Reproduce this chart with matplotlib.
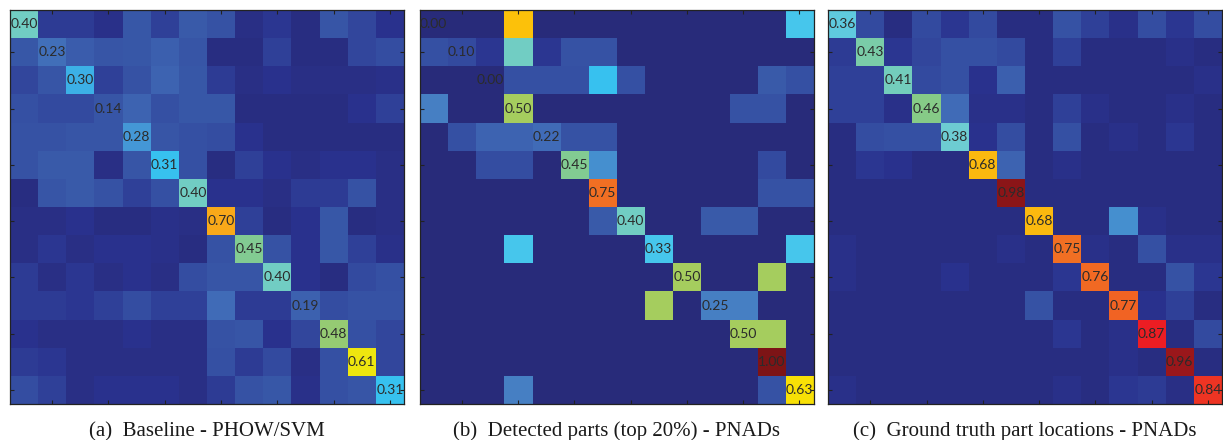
import numpy as np
import matplotlib
matplotlib.use("Agg")
import matplotlib.pyplot as plt
from matplotlib.colors import LinearSegmentedColormap

# ---------------- data ----------------
captions = ["(a)  Baseline - PHOW/SVM",
            "(b)  Detected parts (top 20%) - PNADs",
            "(c)  Ground truth part locations - PNADs"]

baseline = [
    [0.40, 0.07, 0.07, 0.04, 0.15, 0.08, 0.16, 0.13, 0.03, 0.06, 0.02, 0.14, 0.09, 0.05],
    [0.15, 0.23, 0.17, 0.14, 0.15, 0.18, 0.14, 0.02, 0.02, 0.08, 0.02, 0.02, 0.09, 0.11],
    [0.09, 0.14, 0.30, 0.08, 0.13, 0.20, 0.15, 0.07, 0.03, 0.05, 0.03, 0.03, 0.03, 0.04],
    [0.12, 0.10, 0.10, 0.14, 0.20, 0.12, 0.15, 0.15, 0.02, 0.02, 0.02, 0.02, 0.05, 0.08],
    [0.13, 0.13, 0.14, 0.14, 0.28, 0.14, 0.12, 0.11, 0.05, 0.02, 0.02, 0.02, 0.02, 0.02],
    [0.13, 0.16, 0.16, 0.03, 0.14, 0.31, 0.12, 0.02, 0.08, 0.05, 0.03, 0.05, 0.05, 0.03],
    [0.02, 0.14, 0.16, 0.13, 0.08, 0.12, 0.40, 0.05, 0.05, 0.03, 0.07, 0.07, 0.13, 0.03],
    [0.03, 0.03, 0.05, 0.02, 0.02, 0.04, 0.03, 0.70, 0.08, 0.02, 0.05, 0.15, 0.02, 0.03],
    [0.03, 0.06, 0.03, 0.05, 0.05, 0.04, 0.02, 0.13, 0.45, 0.13, 0.05, 0.15, 0.08, 0.04],
    [0.07, 0.03, 0.06, 0.03, 0.05, 0.03, 0.11, 0.14, 0.14, 0.40, 0.05, 0.02, 0.10, 0.12],
    [0.07, 0.07, 0.06, 0.08, 0.11, 0.08, 0.08, 0.22, 0.07, 0.07, 0.19, 0.11, 0.13, 0.13],
    [0.05, 0.03, 0.03, 0.03, 0.05, 0.03, 0.03, 0.13, 0.14, 0.05, 0.09, 0.48, 0.12, 0.09],
    [0.07, 0.06, 0.03, 0.03, 0.03, 0.03, 0.03, 0.12, 0.07, 0.10, 0.03, 0.12, 0.61, 0.09],
    [0.11, 0.08, 0.03, 0.05, 0.05, 0.05, 0.03, 0.07, 0.13, 0.15, 0.04, 0.12, 0.14, 0.31],
]

detected = [
    [0.00, 0.00, 0.00, 0.67, 0.00, 0.00, 0.00, 0.00, 0.00, 0.00, 0.00, 0.00, 0.00, 0.33],
    [0.12, 0.10, 0.06, 0.40, 0.06, 0.13, 0.13, 0.00, 0.00, 0.00, 0.00, 0.00, 0.00, 0.00],
    [0.00, 0.00, 0.00, 0.12, 0.12, 0.12, 0.31, 0.12, 0.00, 0.00, 0.00, 0.00, 0.16, 0.12],
    [0.25, 0.00, 0.00, 0.50, 0.00, 0.00, 0.00, 0.00, 0.00, 0.00, 0.00, 0.13, 0.13, 0.00],
    [0.00, 0.12, 0.20, 0.20, 0.22, 0.13, 0.13, 0.00, 0.00, 0.00, 0.00, 0.00, 0.00, 0.00],
    [0.00, 0.00, 0.11, 0.11, 0.00, 0.45, 0.27, 0.00, 0.00, 0.00, 0.00, 0.00, 0.10, 0.00],
    [0.00, 0.00, 0.00, 0.00, 0.00, 0.00, 0.75, 0.00, 0.00, 0.00, 0.00, 0.00, 0.13, 0.13],
    [0.00, 0.00, 0.00, 0.00, 0.00, 0.00, 0.16, 0.40, 0.00, 0.00, 0.16, 0.16, 0.00, 0.00],
    [0.00, 0.00, 0.00, 0.33, 0.00, 0.00, 0.00, 0.00, 0.33, 0.00, 0.00, 0.00, 0.00, 0.33],
    [0.00, 0.00, 0.00, 0.00, 0.00, 0.00, 0.00, 0.00, 0.00, 0.50, 0.00, 0.00, 0.50, 0.00],
    [0.00, 0.00, 0.00, 0.00, 0.00, 0.00, 0.00, 0.00, 0.50, 0.00, 0.25, 0.25, 0.00, 0.00],
    [0.00, 0.00, 0.00, 0.00, 0.00, 0.00, 0.00, 0.00, 0.00, 0.00, 0.00, 0.50, 0.50, 0.00],
    [0.00, 0.00, 0.00, 0.00, 0.00, 0.00, 0.00, 0.00, 0.00, 0.00, 0.00, 0.00, 1.00, 0.00],
    [0.00, 0.00, 0.00, 0.25, 0.00, 0.00, 0.00, 0.00, 0.00, 0.00, 0.00, 0.00, 0.13, 0.63],
]

ground_truth = [
    [0.36, 0.10, 0.02, 0.10, 0.06, 0.10, 0.02, 0.02, 0.13, 0.08, 0.04, 0.11, 0.06, 0.11],
    [0.07, 0.43, 0.06, 0.09, 0.12, 0.12, 0.10, 0.02, 0.08, 0.02, 0.02, 0.02, 0.04, 0.02],
    [0.08, 0.08, 0.41, 0.10, 0.12, 0.05, 0.18, 0.02, 0.02, 0.02, 0.02, 0.02, 0.02, 0.04],
    [0.08, 0.08, 0.04, 0.46, 0.22, 0.04, 0.04, 0.02, 0.08, 0.04, 0.02, 0.02, 0.04, 0.02],
    [0.02, 0.11, 0.12, 0.12, 0.38, 0.05, 0.11, 0.02, 0.12, 0.02, 0.04, 0.02, 0.06, 0.02],
    [0.02, 0.06, 0.05, 0.02, 0.02, 0.68, 0.20, 0.02, 0.04, 0.02, 0.02, 0.02, 0.02, 0.02],
    [0.02, 0.02, 0.02, 0.02, 0.02, 0.02, 0.98, 0.02, 0.02, 0.02, 0.02, 0.02, 0.02, 0.02],
    [0.02, 0.02, 0.02, 0.02, 0.02, 0.02, 0.02, 0.68, 0.02, 0.02, 0.27, 0.04, 0.02, 0.02],
    [0.04, 0.02, 0.02, 0.02, 0.02, 0.02, 0.04, 0.02, 0.75, 0.04, 0.02, 0.12, 0.04, 0.04],
    [0.04, 0.02, 0.02, 0.02, 0.05, 0.02, 0.02, 0.02, 0.06, 0.76, 0.02, 0.02, 0.13, 0.06],
    [0.02, 0.02, 0.02, 0.02, 0.02, 0.02, 0.02, 0.13, 0.02, 0.02, 0.77, 0.05, 0.08, 0.02],
    [0.02, 0.02, 0.02, 0.02, 0.02, 0.02, 0.02, 0.02, 0.06, 0.02, 0.04, 0.87, 0.02, 0.10],
    [0.02, 0.02, 0.02, 0.02, 0.02, 0.02, 0.02, 0.02, 0.02, 0.02, 0.04, 0.02, 0.96, 0.02],
    [0.04, 0.02, 0.02, 0.02, 0.02, 0.02, 0.02, 0.02, 0.04, 0.02, 0.06, 0.07, 0.03, 0.84],
]

matrices = [baseline, detected, ground_truth]

# ---------------- colormap (printed jet) ----------------
nodes = [
    (0.00, (40, 43, 122)), (0.05, (42, 50, 142)), (0.10, (52, 75, 160)),
    (0.15, (56, 88, 168)), (0.20, (62, 100, 178)), (0.23, (66, 112, 186)),
    (0.26, (72, 135, 200)), (0.29, (66, 160, 222)), (0.31, (55, 195, 240)),
    (0.34, (80, 200, 235)), (0.38, (110, 205, 210)), (0.42, (118, 205, 180)),
    (0.46, (135, 203, 135)), (0.50, (165, 205, 95)), (0.56, (205, 220, 45)),
    (0.62, (245, 232, 10)), (0.65, (255, 210, 0)), (0.70, (250, 170, 25)),
    (0.75, (242, 112, 35)), (0.82, (240, 70, 35)), (0.87, (237, 30, 36)),
    (0.94, (170, 25, 30)), (1.00, (125, 20, 22)),
]
cmap = LinearSegmentedColormap.from_list(
    "printed_jet", [(v, tuple(c / 255 for c in rgb)) for v, rgb in nodes], N=512)

# ---------------- figure ----------------
W, H = 1223, 440
fig = plt.figure(figsize=(W / 100, H / 100), dpi=100)

panel_left = [10, 419.5, 828]
panel_top, panel_size = 10, 394

for k, mat in enumerate(matrices):
    m = np.array(mat)
    n = m.shape[0]
    ax = fig.add_axes([panel_left[k] / W, (H - panel_top - panel_size) / H,
                       panel_size / W, panel_size / H])
    ax.imshow(m, cmap=cmap, vmin=0, vmax=1, interpolation="nearest", aspect="auto")
    for i in range(n):
        ax.text(i, i, f"{m[i, i]:.2f}", ha="center", va="center",
                fontsize=10, family=["Lato", "DejaVu Sans"], color="#2b2b2b")
    ticks = np.arange(1, n, 2)
    ax.set_xticks(ticks)
    ax.set_yticks(ticks)
    ax.set_xticklabels([])
    ax.set_yticklabels([])
    ax.tick_params(direction="in", length=3, width=0.8, color="#222222",
                   top=True, bottom=True, left=True, right=True)
    for s in ax.spines.values():
        s.set_linewidth(0.9)
        s.set_color("#222222")
    ax.set_xlim(-0.5, n - 0.5)
    ax.set_ylim(n - 0.5, -0.5)
    cx = (panel_left[k] + panel_size / 2) / W
    fig.text(cx, 4 / H, captions[k], ha="center", va="baseline",
             fontsize=15, family=["Liberation Serif", "DejaVu Serif"], color="#1a1a1a")

fig.savefig("out.png", dpi=100)
